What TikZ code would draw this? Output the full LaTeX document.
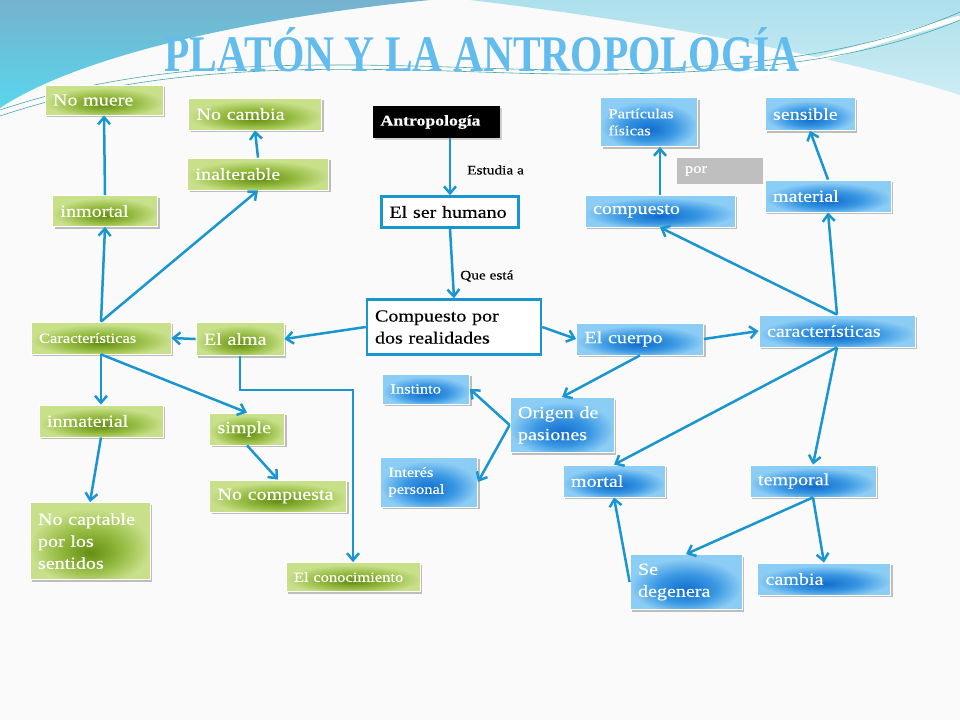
\documentclass[tikz,border=0pt]{standalone}
\usepackage{fontspec}
\setmainfont{Liberation Serif}[FakeStretch=1.18,FakeBold=0.3]
\newfontfamily\titlefont{Liberation Serif}
\usepackage{graphicx}
\usetikzlibrary{arrows.meta,shadows}

\definecolor{azul}{RGB}{25,150,210}
\definecolor{verdeOsc}{RGB}{100,142,18}
\definecolor{verdeMed}{RGB}{148,186,64}
\definecolor{verdeCla}{RGB}{200,224,138}
\definecolor{azulOsc}{RGB}{16,108,205}
\definecolor{azulMed}{RGB}{56,150,226}
\definecolor{azulCla}{RGB}{140,205,245}
\definecolor{cieloA}{RGB}{118,178,206}
\definecolor{cieloB}{RGB}{88,214,236}
\definecolor{cieloC}{RGB}{172,224,236}
\definecolor{titulo}{RGB}{98,188,238}

\pgfdeclareradialshading{sombraVerde}{\pgfpoint{0bp}{-8bp}}{color(0bp)=(verdeOsc);
  color(13bp)=(verdeMed); color(25bp)=(verdeCla); color(50bp)=(verdeCla)}
\pgfdeclareradialshading{sombraAzul}{\pgfpoint{0bp}{-8bp}}{color(0bp)=(azulOsc);
  color(13bp)=(azulMed); color(25bp)=(azulCla); color(50bp)=(azulCla)}

\tikzset{
  caja/.style={rectangle, draw=white, line width=0.8pt, text=white, align=left,
    inner xsep=8pt, inner ysep=0pt,
    drop shadow={shadow xshift=2pt, shadow yshift=-2pt, opacity=.35, fill=black!70}},
  gcaja/.style={caja, shading=sombraVerde},
  bcaja/.style={caja, shading=sombraAzul},
  tam/.style 2 args={text width=#1, minimum height=#2},
  txtL/.style={font=\fontsize{17}{22}\selectfont},
  txtS/.style={font=\fontsize{14}{17}\selectfont},
  marco/.style={rectangle, draw=azul, line width=2.5pt, fill=white, align=left,
    inner xsep=8pt, inner ysep=0pt},
  etiqueta/.style={font=\fontsize{13}{15}\selectfont, inner sep=0pt},
  flecha/.style={draw=azul, line width=2.5pt, -{Straight Barb[length=7pt,width=12pt]}},
}

\begin{document}
\begin{tikzpicture}[x=1pt,y=-1pt]
  \useasboundingbox (0,0) rectangle (960,720);
  % fondo
  \fill[black!2] (0,0) rectangle (960,720);
  \shade[top color=cieloC, bottom color=cieloC!60!white] (470,0) -- (960,0) -- (960,95)
    .. controls (820,50) and (620,18) .. (470,0) -- cycle;
  \shade[top color=cieloA, bottom color=cieloB] (0,0) -- (430,0)
    .. controls (250,18) and (80,55) .. (0,108) -- cycle;
  \draw[white, line width=5pt] (960,18) .. controls (880,40) and (820,62) .. (740,78);
  \draw[teal!70, line width=0.6pt] (0,110) .. controls (150,60) and (300,62) .. (480,68)
    .. controls (700,76) and (850,60) .. (960,12);
  \draw[teal!70, line width=0.6pt] (0,116) .. controls (150,66) and (300,66) .. (480,72)
    .. controls (700,80) and (850,66) .. (960,20);

  % titulo
  \node[anchor=south, inner sep=0pt, text=titulo] (titulo) at (482,72)
    {\resizebox{635pt}{44pt}{\titlefont\bfseries PLATÓN Y LA ANTROPOLOGÍA}};

  % centro
  \node[rectangle, fill=black, text=white, inner xsep=8pt, inner ysep=0pt, tam={111pt}{32pt},
    font=\fontsize{15}{18}\selectfont\bfseries,
    drop shadow={shadow xshift=2pt, shadow yshift=-2pt, opacity=.35}] (antro) at (436,122) {Antropología};
  \node[marco, txtL, tam={121pt}{31pt}] (ser) at (450,212) {El ser humano};
  \node[marco, txtL, tam={158pt}{55pt}] (comp) at (454,327) {Compuesto por\\dos realidades};

  % el alma
  \node[gcaja, txtL, tam={102pt}{30pt}] (nomuere) at (104,100) {No muere};
  \node[gcaja, txtL, tam={117pt}{32pt}] (nocambia) at (255,114) {No cambia};
  \node[gcaja, txtL, tam={125pt}{32pt}] (inalterable) at (258,174) {inalterable};
  \node[gcaja, txtL, tam={89pt}{31pt}] (inmortal) at (105,211) {inmortal};
  \node[gcaja, txtS, tam={124pt}{32pt}] (caracA) at (101,338) {Características};
  \node[gcaja, txtL, tam={72pt}{33pt}] (alma) at (240,339) {El alma};
  \node[gcaja, txtL, tam={108pt}{32pt}] (inmaterial) at (101,421) {inmaterial};
  \node[gcaja, txtL, tam={59pt}{32pt}] (simple) at (247,429) {simple};
  \node[gcaja, txtL, tam={121pt}{32pt}] (nocompuesta) at (278,496) {\mbox{No compuesta}};
  \node[gcaja, txtL, tam={104pt}{77pt}] (nocaptable) at (90,541) {No captable\\por los\\sentidos};
  \node[gcaja, txtS, tam={118pt}{29pt}] (conocimiento) at (353,577) {El conocimiento};

  % el cuerpo
  \node[bcaja, txtS, tam={81pt}{49pt}] (particulas) at (649,122) {Partículas\\físicas};
  \node[bcaja, txtL, tam={74pt}{33pt}] (sensible) at (810,114) {sensible};
  \node[rectangle, fill=black!25, text=white, txtS, inner xsep=8pt, inner ysep=0pt,
    tam={70pt}{26pt}, align=left] (por) at (720,171) {por};
  \node[bcaja, txtL, tam={134pt}{32pt}] (compuesto) at (660,211) {compuesto};
  \node[bcaja, txtL, tam={110pt}{32pt}] (material) at (828,196) {material};
  \node[bcaja, txtL, tam={140pt}{32pt}] (caracB) at (837,331) {características};
  \node[bcaja, txtL, tam={111pt}{32pt}] (cuerpo) at (640,339) {El cuerpo};
  \node[bcaja, txtS, tam={71pt}{30pt}] (instinto) at (426,389) {Instinto};
  \node[bcaja, txtL, tam={88pt}{55pt}] (origen) at (562,425) {Origen de\\pasiones};
  \node[bcaja, txtS, tam={81pt}{50pt}] (interes) at (429,482) {Interés\\personal};
  \node[bcaja, txtL, tam={86pt}{32pt}] (mortal) at (614,481) {mortal};
  \node[bcaja, txtL, tam={110pt}{32pt}] (temporal) at (813,481) {temporal};
  \node[bcaja, txtL, tam={96pt}{55pt}] (degenera) at (686,582) {Se\\degenera};
  \node[bcaja, txtL, tam={117pt}{32pt}] (cambia) at (824,579) {cambia};

  % conectores del centro
  \draw[flecha] (ser.north |- antro.south) -- (ser.north);
  \node[etiqueta, anchor=west] (estudia) at (467,170) {Estudia a};
  \draw[flecha] (ser.south) -- (comp.north);
  \node[etiqueta, anchor=west] (queesta) at (460,276) {Que está};
  \draw[flecha] (comp.west) -- (alma.east);
  \draw[flecha] (comp.east) -- (cuerpo.west);

  % conectores del alma
  \draw[flecha] (alma.west) -- (caracA.east);
  \draw[flecha] (caracA.north) -- (inmortal.south);
  \draw[flecha] (inmortal.north) -- (nomuere.south);
  \draw[flecha] (caracA.north) -- (inalterable.south);
  \draw[flecha] (inalterable.north) -- (nocambia.south);
  \draw[flecha] (caracA.south) -- (inmaterial.north);
  \draw[flecha] (caracA.south) -- (simple.north);
  \draw[flecha] (inmaterial.south) -- (nocaptable.north);
  \draw[flecha] (simple.south) -- (nocompuesta.north);
  \draw[flecha] (alma.south) -- ++(0,34) -| (conocimiento.north);

  % conectores del cuerpo
  \draw[flecha] (cuerpo.east) -- (caracB.west);
  \draw[flecha] (caracB.north) -- (compuesto.south);
  \draw[flecha] (caracB.north) -- (material.south);
  \draw[flecha] (material.north) -- (sensible.south);
  \draw[flecha] (compuesto.north) -- (compuesto.north |- particulas.south);
  \draw[flecha] (cuerpo.south) -- (origen.north);
  \draw[flecha] (origen.west) -- (instinto.east);
  \draw[flecha] (origen.west) -- (interes.east);
  \draw[flecha] (caracB.south) -- (mortal.north);
  \draw[flecha] (caracB.south) -- (temporal.north);
  \draw[flecha] (temporal.south) -- (degenera.north);
  \draw[flecha] (temporal.south) -- (cambia.north);
  \draw[flecha] (degenera.west) -- (mortal.south);
\end{tikzpicture}
\end{document}
